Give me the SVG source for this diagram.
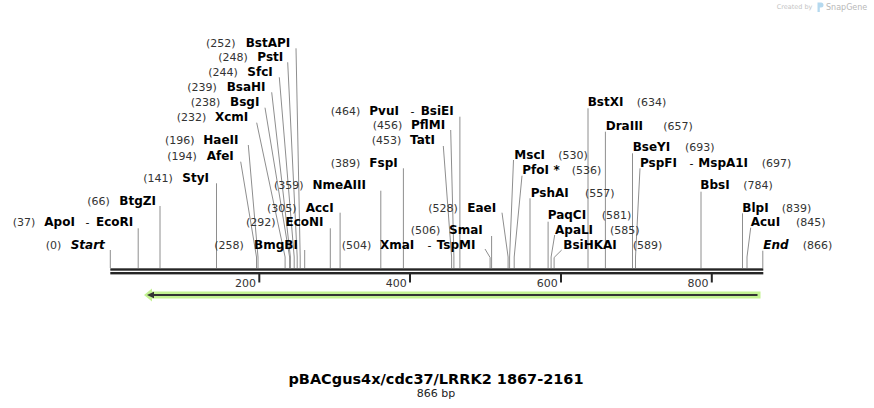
<svg xmlns="http://www.w3.org/2000/svg" width="874" height="408" viewBox="0 0 874 408">
<style>
text{font-family:"DejaVu Sans",Verdana,sans-serif}
.n{font-size:12px;font-weight:bold;fill:#000}
.s{font-size:12px;font-weight:bold;font-style:italic;fill:#000}
.p{font-size:11px;fill:#333}
.d{font-size:11px;fill:#000}
.t{font-size:11px;fill:#333}
#connectors path{fill:none;stroke:#8e8e8e;stroke-width:1}
</style>
<rect width="874" height="408" fill="#fff"/>
<g id="watermark">
<text x="776.7" y="9" style="font-size:6.5px;fill:#c4c4c4">Created by</text>
<path d="M817.5,2.5 h3.5 a2.5,2.5 0 0 1 0,5 h-1.2 v4.5 h-2.3 z" fill="#b5d9ef"/>
<text x="826" y="10" style="font-size:8px;fill:#b8b8b8">SnapGene</text>
</g>
<g id="connectors">
<path d="M110.3,250V268"/>
<path d="M138.2,228.3V268"/>
<path d="M160,206V268"/>
<path d="M216.5,183.3V268"/>
<path d="M240.7,161.7L256.5,257V268"/>
<path d="M248.3,145L258,257V268"/>
<path d="M256.7,122.7L285.1,257V268"/>
<path d="M265,107.7L289.6,257V268"/>
<path d="M271.7,92.3L290.4,257V268"/>
<path d="M279.3,77.3L294.2,257V268"/>
<path d="M287.7,62.3L297.2,257V268"/>
<path d="M296,48.3L300.2,257V268"/>
<path d="M304.7,250V268"/>
<path d="M330.3,228.3V268"/>
<path d="M340.1,212.7V268"/>
<path d="M380.8,190.7V268"/>
<path d="M403.4,168.3V268"/>
<path d="M443.3,146L451.6,257V268"/>
<path d="M450.7,130L453.9,257V268"/>
<path d="M459.9,116.7V268"/>
<path d="M485,249L490.1,257.5V268"/>
<path d="M491.6,236V268"/>
<path d="M502,212.7L508.1,257V268"/>
<path d="M513.5,160L509.6,257V268"/>
<path d="M522,175.7L514.2,257V268"/>
<path d="M530,198.3V268"/>
<path d="M548.1,221.7V268"/>
<path d="M554.7,235L551.1,257V268"/>
<path d="M561.7,250L554.1,257.5V268"/>
<path d="M588,108.3V268"/>
<path d="M605.4,131.7V268"/>
<path d="M632.5,153.3V268"/>
<path d="M640,168.3L635.5,257V268"/>
<path d="M701,191.7V268"/>
<path d="M742.5,213.3V268"/>
<path d="M750.7,227.7L747,257V268"/>
<path d="M762.8,250.7V268"/>
</g>
<g id="sequence">
<rect x="110.3" y="268.3" width="653" height="2.4" fill="#262626"/>
<rect x="110.3" y="272" width="653" height="2.4" fill="#262626"/>
<rect x="258.3" y="274" width="2" height="8.5" fill="#262626"/>
<rect x="409" y="274" width="2" height="8.5" fill="#262626"/>
<rect x="560" y="274" width="2" height="8.5" fill="#262626"/>
<rect x="710.8" y="274" width="2" height="8.5" fill="#262626"/>
<text class="t" x="256" y="286.5" text-anchor="end">200</text>
<text class="t" x="406.7" y="286.5" text-anchor="end">400</text>
<text class="t" x="557.7" y="286.5" text-anchor="end">600</text>
<text class="t" x="708.5" y="286.5" text-anchor="end">800</text>
</g>
<g id="feature">
<path d="M144,295 L152,288.5 L152,291.5 L760.5,291.5 L760.5,298.5 L152,298.5 L152,301.5 Z" fill="#c3f292"/>
<path d="M152,295H757.5" stroke="#333" stroke-width="2"/>
<path d="M147,295 L154,291.7 L154,298.3 Z" fill="#333"/>
</g>
<g id="BstAPI"><text class="p" x="206" y="46.6">(252)</text><text class="n" x="245.7" y="46.6">BstAPI</text></g>
<g id="PstI"><text class="p" x="218.3" y="61">(248)</text><text class="n" x="257.3" y="61">PstI</text></g>
<g id="SfcI"><text class="p" x="208.3" y="76">(244)</text><text class="n" x="247.3" y="76">SfcI</text></g>
<g id="BsaHI"><text class="p" x="187.3" y="91">(239)</text><text class="n" x="226.7" y="91">BsaHI</text></g>
<g id="BsgI"><text class="p" x="190.7" y="106">(238)</text><text class="n" x="230" y="106">BsgI</text></g>
<g id="XcmI"><text class="p" x="176.7" y="121">(232)</text><text class="n" x="215" y="121">XcmI</text></g>
<g id="HaeII"><text class="p" x="165" y="144.3">(196)</text><text class="n" x="203.3" y="144.3">HaeII</text></g>
<g id="AfeI"><text class="p" x="167.3" y="160">(194)</text><text class="n" x="206.7" y="160">AfeI</text></g>
<g id="StyI"><text class="p" x="143.3" y="181.6">(141)</text><text class="n" x="182.3" y="181.6">StyI</text></g>
<g id="BtgZI"><text class="p" x="87.3" y="205">(66)</text><text class="n" x="119.3" y="205">BtgZI</text></g>
<g id="ApoI"><text class="p" x="12.7" y="226">(37)</text><text class="n" x="44.3" y="226">ApoI</text><text class="d" x="85.5" y="226">-</text><text class="n" x="96" y="226">EcoRI</text></g>
<g id="Start"><text class="p" x="45.7" y="248.8">(0)</text><text class="s" x="70.7" y="248.8">Start</text></g>
<g id="BmgBI"><text class="p" x="214.3" y="249.3">(258)</text><text class="n" x="254" y="249.3">BmgBI</text></g>
<g id="EcoNI"><text class="p" x="246" y="226">(292)</text><text class="n" x="285.5" y="226">EcoNI</text></g>
<g id="AccI"><text class="p" x="267" y="211.6">(305)</text><text class="n" x="305.7" y="211.6">AccI</text></g>
<g id="NmeAIII"><text class="p" x="274" y="189.3">(359)</text><text class="n" x="312.5" y="189.3">NmeAIII</text></g>
<g id="PvuI"><text class="p" x="330.7" y="115">(464)</text><text class="n" x="369.3" y="115">PvuI</text><text class="d" x="410.5" y="115">-</text><text class="n" x="420.7" y="115">BsiEI</text></g>
<g id="PflMI"><text class="p" x="372.7" y="129.3">(456)</text><text class="n" x="411" y="129.3">PflMI</text></g>
<g id="TatI"><text class="p" x="371.7" y="144.3">(453)</text><text class="n" x="410" y="144.3">TatI</text></g>
<g id="FspI"><text class="p" x="330.7" y="166.6">(389)</text><text class="n" x="369.3" y="166.6">FspI</text></g>
<g id="EaeI"><text class="p" x="428.3" y="211.6">(528)</text><text class="n" x="467.3" y="211.6">EaeI</text></g>
<g id="SmaI"><text class="p" x="410.7" y="234.3">(506)</text><text class="n" x="449" y="234.3">SmaI</text></g>
<g id="XmaI"><text class="p" x="341.7" y="249.3">(504)</text><text class="n" x="380" y="249.3">XmaI</text><text class="d" x="427.5" y="249.3">-</text><text class="n" x="436.7" y="249.3">TspMI</text></g>
<g id="BstXI"><text class="n" x="587.7" y="106">BstXI</text><text class="p" x="636.7" y="106">(634)</text></g>
<g id="DraIII"><text class="n" x="605.7" y="130">DraIII</text><text class="p" x="663.3" y="130">(657)</text></g>
<g id="BseYI"><text class="n" x="632.7" y="151">BseYI</text><text class="p" x="685" y="151">(693)</text></g>
<g id="MscI"><text class="n" x="514.3" y="159.3">MscI</text><text class="p" x="558.3" y="159.3">(530)</text></g>
<g id="PspFI"><text class="n" x="640" y="166.6">PspFI</text><text class="d" x="689.5" y="166.6">-</text><text class="n" x="698.3" y="166.6">MspA1I</text><text class="p" x="761.7" y="166.6">(697)</text></g>
<g id="PfoI"><text class="n" x="522.3" y="174.3">PfoI</text><text class="n" x="553.5" y="174.3">*</text><text class="p" x="571.7" y="174.3">(536)</text></g>
<g id="BbsI"><text class="n" x="700.3" y="189.3">BbsI</text><text class="p" x="743.3" y="189.3">(784)</text></g>
<g id="PshAI"><text class="n" x="530.7" y="196.6">PshAI</text><text class="p" x="585" y="196.6">(557)</text></g>
<g id="BlpI"><text class="n" x="742.3" y="211.6">BlpI</text><text class="p" x="781.7" y="211.6">(839)</text></g>
<g id="PaqCI"><text class="n" x="547.7" y="219.3">PaqCI</text><text class="p" x="601.7" y="219.3">(581)</text></g>
<g id="AcuI"><text class="n" x="750.7" y="226">AcuI</text><text class="p" x="796" y="226">(845)</text></g>
<g id="ApaLI"><text class="n" x="555" y="234.3">ApaLI</text><text class="p" x="610" y="234.3">(585)</text></g>
<g id="BsiHKAI"><text class="n" x="563.3" y="249.3">BsiHKAI</text><text class="p" x="632.7" y="249.3">(589)</text></g>
<g id="End"><text class="s" x="763.3" y="249.3">End</text><text class="p" x="802.7" y="249.3">(866)</text></g>
<g id="title">
<text x="436" y="383.6" text-anchor="middle" style="font-size:14.5px;font-weight:bold;fill:#000">pBACgus4x/cdc37/LRRK2 1867-2161</text>
<text x="436" y="397" text-anchor="middle" style="font-size:11px;fill:#222">866 bp</text>
</g>
</svg>
